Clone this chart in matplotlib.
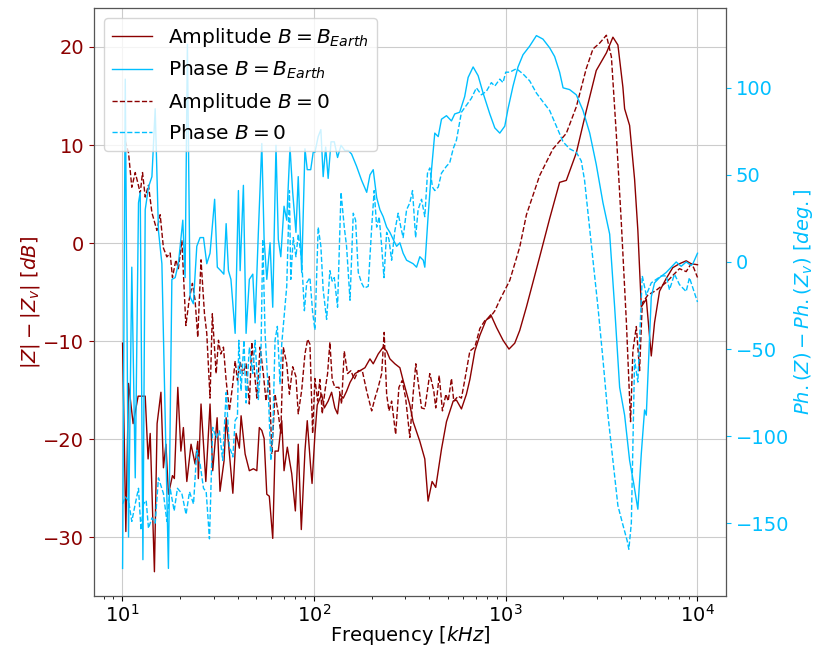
import numpy as np
import matplotlib
matplotlib.use('Agg')
import matplotlib.pyplot as plt

# frequencies are given as log10(f / kHz)
amp_earth_logf = [1.002, 1.019, 1.033, 1.057, 1.083, 1.120, 1.135, 1.146, 1.168, 1.182,
                  1.202, 1.215, 1.228, 1.241, 1.262, 1.272, 1.290, 1.306, 1.319, 1.337,
                  1.359, 1.380, 1.394, 1.397, 1.411, 1.436, 1.458, 1.472, 1.495, 1.510,
                  1.531, 1.542, 1.552, 1.577, 1.594, 1.611, 1.620, 1.641, 1.663, 1.684,
                  1.702, 1.715, 1.728, 1.740, 1.754, 1.767, 1.785, 1.797, 1.814, 1.832,
                  1.844, 1.861, 1.884, 1.903, 1.918, 1.934, 1.953, 1.965, 1.983, 1.990,
                  2.005, 2.017, 2.040, 2.054, 2.074, 2.092, 2.109, 2.123, 2.135, 2.153,
                  2.170, 2.188, 2.214, 2.240, 2.266, 2.292, 2.309, 2.335, 2.361, 2.379,
                  2.396, 2.422, 2.448, 2.465, 2.483, 2.500, 2.517, 2.552, 2.578, 2.595,
                  2.616, 2.635, 2.665, 2.691, 2.726, 2.743, 2.769, 2.795, 2.813, 2.839,
                  2.865, 2.896, 2.922, 2.952, 2.986, 3.017, 3.047, 3.073, 3.108, 3.177,
                  3.229, 3.281, 3.316, 3.368, 3.420, 3.472, 3.525, 3.559, 3.585, 3.611,
                  3.620, 3.646, 3.672, 3.689, 3.707, 3.733, 3.759, 3.776, 3.802, 3.837,
                  3.871, 3.906, 3.941, 3.967, 4.000]
amp_earth_db = [-10.2, -29.4, -14.3, -18.4, -15.6, -15.6, -22.0, -19.4, -33.5, -18.4,
                -15.2, -22.9, -20.5, -25.6, -23.7, -24.0, -14.7, -21.2, -18.8, -24.3,
                -20.5, -22.5, -20.2, -24.0, -16.4, -24.3, -16.4, -23.2, -17.8, -25.3,
                -22.2, -17.8, -19.9, -25.5, -19.4, -20.9, -17.6, -21.5, -23.2, -23.0,
                -23.2, -18.8, -19.1, -19.9, -25.6, -25.8, -30.1, -21.2, -21.2, -18.1,
                -23.2, -20.8, -23.5, -27.3, -20.5, -29.2, -21.2, -18.1, -22.9, -24.5,
                -19.5, -16.5, -15.4, -16.8, -16.1, -15.2, -16.8, -17.4, -15.4, -15.8,
                -15.1, -14.2, -13.3, -13.0, -12.7, -11.8, -12.3, -11.3, -10.6, -11.0,
                -11.8, -12.3, -12.7, -14.0, -15.3, -16.5, -18.2, -20.2, -22.0, -26.3,
                -24.3, -24.9, -21.0, -18.2, -16.1, -16.0, -16.9, -15.4, -13.9, -11.0,
                -9.4, -7.9, -7.3, -8.6, -9.9, -10.8, -10.2, -8.9, -6.5, -1.4,
                2.5, 6.2, 6.4, 9.2, 13.5, 17.6, 19.4, 21.0, 20.2, 15.9,
                13.7, 12.0, 6.5, 1.3, -6.5, -5.7, -11.5, -8.1, -4.9, -3.6,
                -2.5, -2.1, -1.8, -2.1, -2.2]

amp_zero_logf = [1.016, 1.033, 1.050, 1.068, 1.082, 1.094, 1.106, 1.120, 1.137, 1.155,
                 1.181, 1.198, 1.215, 1.233, 1.250, 1.262, 1.280, 1.293, 1.311, 1.332,
                 1.349, 1.366, 1.380, 1.394, 1.411, 1.429, 1.441, 1.458, 1.470, 1.490,
                 1.502, 1.514, 1.528, 1.542, 1.559, 1.577, 1.589, 1.601, 1.615, 1.629,
                 1.646, 1.663, 1.676, 1.688, 1.702, 1.719, 1.736, 1.750, 1.767, 1.780,
                 1.797, 1.814, 1.827, 1.840, 1.858, 1.872, 1.889, 1.906, 1.918, 1.936,
                 1.953, 1.967, 1.979, 1.993, 2.005, 2.019, 2.031, 2.043, 2.057, 2.071,
                 2.083, 2.095, 2.109, 2.130, 2.144, 2.158, 2.175, 2.193, 2.210, 2.231,
                 2.252, 2.275, 2.301, 2.318, 2.335, 2.353, 2.366, 2.379, 2.391, 2.405,
                 2.426, 2.443, 2.460, 2.478, 2.500, 2.517, 2.531, 2.547, 2.561, 2.578,
                 2.604, 2.625, 2.635, 2.653, 2.670, 2.688, 2.700, 2.717, 2.729, 2.752,
                 2.769, 2.786, 2.813, 2.839, 2.865, 2.891, 2.917, 2.943, 2.969, 2.995,
                 3.021, 3.047, 3.073, 3.108, 3.177, 3.246, 3.316, 3.368, 3.420, 3.455,
                 3.490, 3.525, 3.551, 3.577, 3.603, 3.629, 3.651, 3.663, 3.681, 3.698,
                 3.712, 3.741, 3.785, 3.837, 3.871, 3.906, 3.941, 3.967, 3.980, 4.000]
amp_zero_db = [10.4, 9.2, 5.7, 7.2, 6.1, 5.1, 7.2, 4.7, 5.9, 3.1,
               1.3, 2.9, -0.5, -1.4, -1.0, -3.5, -1.7, -2.6, 0.3, -8.4,
               -5.8, -4.1, -5.8, -9.6, -1.7, -7.2, -9.2, -15.8, -7.2, -13.3,
               -9.9, -11.3, -10.6, -14.0, -17.1, -14.3, -12.0, -14.0, -12.1, -13.3,
               -12.3, -16.4, -10.1, -12.7, -15.8, -10.6, -13.3, -16.1, -13.6, -21.5,
               -15.4, -17.4, -19.4, -10.6, -12.3, -15.4, -12.6, -13.6, -17.4, -15.0,
               -11.3, -9.8, -10.3, -19.4, -13.8, -16.1, -13.9, -17.4, -15.1, -13.3,
               -10.1, -13.9, -14.7, -14.7, -16.4, -11.0, -13.3, -13.0, -13.9, -13.0,
               -13.0, -15.1, -17.1, -15.8, -14.7, -13.3, -9.1, -15.4, -17.1, -16.1,
               -19.5, -14.7, -14.0, -15.8, -19.8, -15.4, -12.3, -14.7, -16.8, -16.9,
               -13.3, -15.1, -16.8, -13.5, -17.1, -15.4, -16.1, -13.8, -16.1, -15.6,
               -15.8, -14.0, -11.0, -10.6, -8.7, -7.9, -7.6, -6.9, -5.8, -4.8,
               -3.8, -2.1, -0.4, 2.9, 6.9, 9.6, 11.2, 13.9, 17.8, 19.8,
               20.4, 21.2, 19.0, 11.0, 2.0, -8.0, -18.2, -11.0, -8.5, -13.0,
               -6.1, -5.3, -4.8, -4.0, -3.3, -2.6, -2.9, -2.1, -2.5, -3.5]

ph_earth_logf = [1.002, 1.016, 1.033, 1.050, 1.068, 1.085, 1.094, 1.108, 1.120, 1.137,
                 1.155, 1.172, 1.189, 1.207, 1.241, 1.259, 1.276, 1.293, 1.316, 1.328,
                 1.340, 1.354, 1.371, 1.389, 1.406, 1.424, 1.441, 1.458, 1.482, 1.496,
                 1.514, 1.530, 1.542, 1.554, 1.567, 1.589, 1.606, 1.615, 1.632, 1.646,
                 1.663, 1.681, 1.693, 1.710, 1.728, 1.740, 1.754, 1.771, 1.785, 1.802,
                 1.814, 1.827, 1.844, 1.858, 1.875, 1.889, 1.906, 1.918, 1.936, 1.953,
                 1.965, 1.983, 1.996, 2.005, 2.022, 2.036, 2.048, 2.061, 2.074, 2.089,
                 2.106, 2.123, 2.141, 2.161, 2.179, 2.196, 2.222, 2.248, 2.275, 2.292,
                 2.309, 2.327, 2.344, 2.361, 2.379, 2.396, 2.413, 2.431, 2.448, 2.465,
                 2.483, 2.500, 2.517, 2.535, 2.552, 2.570, 2.578, 2.595, 2.613, 2.630,
                 2.648, 2.665, 2.691, 2.717, 2.734, 2.760, 2.786, 2.804, 2.830, 2.856,
                 2.882, 2.917, 2.943, 2.969, 2.995, 3.012, 3.038, 3.064, 3.090, 3.125,
                 3.160, 3.194, 3.229, 3.255, 3.281, 3.299, 3.333, 3.368, 3.403, 3.438,
                 3.472, 3.507, 3.542, 3.568, 3.594, 3.620, 3.646, 3.667, 3.689, 3.707,
                 3.724, 3.733, 3.759, 3.776, 3.802, 3.837, 3.863, 3.889, 3.915, 3.941,
                 3.967, 3.976, 4.000]
ph_earth_deg = [-176, 105, -158, -3, -124, 34, 40, -171, 30, 43,
                49, 88, 18, -1, -176, -10, -9, -1, 24, -9,
                125, -20, -24, 9, 14, 14, -1, 5, 36, -3,
                -5, -7, 22, -5, -10, -41, 41, -5, 44, -41,
                -10, -7, -35, 17, 68, 13, -10, 11, -26, 67,
                13, 3, 32, 24, 66, 40, 17, 49, -6, 65,
                53, 53, 63, 63, 72, 76, 49, 66, 48, 69,
                69, 60, 67, 64, 64, 62, 55, 47, 40, 50,
                53, 37, 30, 26, 20, 17, 13, 9, 11, 5,
                1, 0, -1, -3, 3, 1, -3, 26, 53, 74,
                72, 82, 84, 81, 85, 86, 95, 106, 112, 107,
                97, 85, 77, 74, 78, 88, 101, 112, 119, 124,
                130, 128, 123, 118, 109, 100, 99, 96, 87, 74,
                56, 34, 16, -26, -72, -88, -114, -127, -142, -110,
                -85, -88, -20, -12, -9, -6, -3, 0, -2.5, 0,
                -2, -1, 5]

ph_zero_logf = [1.002, 1.016, 1.033, 1.050, 1.068, 1.085, 1.098, 1.111, 1.125, 1.137,
                1.155, 1.172, 1.189, 1.215, 1.233, 1.250, 1.271, 1.288, 1.311, 1.333,
                1.351, 1.372, 1.389, 1.406, 1.424, 1.438, 1.455, 1.472, 1.490, 1.507,
                1.524, 1.542, 1.559, 1.577, 1.589, 1.601, 1.608, 1.620, 1.635, 1.646,
                1.663, 1.681, 1.693, 1.710, 1.723, 1.733, 1.745, 1.762, 1.775, 1.785,
                1.797, 1.809, 1.823, 1.832, 1.844, 1.858, 1.872, 1.879, 1.892, 1.906,
                1.918, 1.936, 1.950, 1.962, 1.979, 1.993, 2.005, 2.022, 2.036, 2.048,
                2.066, 2.083, 2.095, 2.106, 2.123, 2.141, 2.158, 2.170, 2.188, 2.205,
                2.217, 2.231, 2.248, 2.262, 2.283, 2.301, 2.314, 2.327, 2.340, 2.353,
                2.365, 2.379, 2.391, 2.405, 2.422, 2.439, 2.453, 2.465, 2.483, 2.500,
                2.514, 2.530, 2.543, 2.561, 2.578, 2.592, 2.604, 2.618, 2.630, 2.648,
                2.665, 2.691, 2.708, 2.726, 2.743, 2.769, 2.795, 2.821, 2.847, 2.873,
                2.899, 2.925, 2.943, 2.969, 2.986, 3.000, 3.021, 3.056, 3.090, 3.125,
                3.160, 3.194, 3.229, 3.264, 3.299, 3.333, 3.368, 3.394, 3.411, 3.428,
                3.455, 3.481, 3.507, 3.533, 3.559, 3.585, 3.611, 3.633, 3.642, 3.655,
                3.672, 3.689, 3.712, 3.733, 3.759, 3.785, 3.811, 3.837, 3.854, 3.880,
                3.906, 3.941, 3.958, 3.976, 4.000]
ph_zero_deg = [-139, -135, -137, -149, -139, -130, -154, -139, -137, -153,
               -147, -150, -124, -133, -149, -130, -143, -130, -133, -145,
               -132, -139, -108, -116, -130, -132, -159, -95, -101, -97,
               -114, -75, -106, -112, -91, -89, -45, -74, -45, -81,
               -49, -64, -45, -79, -57, 13, -41, -75, -114, -99,
               -45, -37, -70, -47, -32, -14, 41, -10, 14, 3,
               16, 1, -28, -12, -9, -29, -39, 20, 9, -16,
               -33, -5, -11, -9, -26, 40, 20, 9, -22, 28,
               24, -6, -12, -15, -14, 20, 41, 20, 26, 9,
               -9, 17, 13, 1, 18, 28, 20, 14, 30, 34,
               41, 14, 30, 36, 26, 51, 54, 43, 41, 43,
               51, 55, 57, 65, 70, 86, 90, 94, 100, 96,
               98, 103, 101, 105, 103, 109, 109, 111, 108, 104,
               97, 92, 87, 78, 69, 65, 63, 58, 47, 29,
               1, -26, -56, -88, -114, -140, -151, -160, -165, -150,
               -56, -69, -8, -19, -12, -10, -8, -8, -16, -7,
               -13, -17, -9, -15, -23]

red = 'darkred'
blue = 'deepskyblue'

fig, ax = plt.subplots(figsize=(8.16, 6.46), dpi=100)
fig.subplots_adjust(left=0.115, right=0.89, top=0.988, bottom=0.077)
ax2 = ax.twinx()

l1, = ax.plot(10 ** np.array(amp_earth_logf), amp_earth_db, color=red, lw=1,
              label=r'Amplitude $B=B_{Earth}$')
l3, = ax.plot(10 ** np.array(amp_zero_logf), amp_zero_db, color=red, lw=1, ls='--',
              label=r'Amplitude $B=0$')
l2, = ax2.plot(10 ** np.array(ph_earth_logf), ph_earth_deg, color=blue, lw=1,
               label=r'Phase $B=B_{Earth}$')
l4, = ax2.plot(10 ** np.array(ph_zero_logf), ph_zero_deg, color=blue, lw=1, ls='--',
               label=r'Phase $B=0$')

ax.set_xscale('log')
ax.set_ylim(-36, 24)
ax2.set_ylim(-192, 146)
ax.grid(True, color='#cccccc')

for sp in ax2.spines.values():
    sp.set_color('#555555')

ax.set_xlabel(r'Frequency $[kHz]$', fontsize=14, labelpad=-1)
ax.set_ylabel(r'$|Z|-|Z_v|$ $[dB]$', color=red, fontsize=14, labelpad=1)
ax2.set_ylabel(r'$Ph.(Z)-Ph.(Z_v)$ $[deg.]$', color=blue, fontsize=14, labelpad=2)
ax.tick_params(axis='x', labelsize=14, pad=2)
ax.tick_params(axis='y', labelsize=14, colors=red)
ax2.tick_params(axis='y', labelsize=14, colors=blue)

ax2.legend(handles=[l1, l2, l3, l4], loc='upper left', fontsize=14.5)

fig.savefig('out.png')
